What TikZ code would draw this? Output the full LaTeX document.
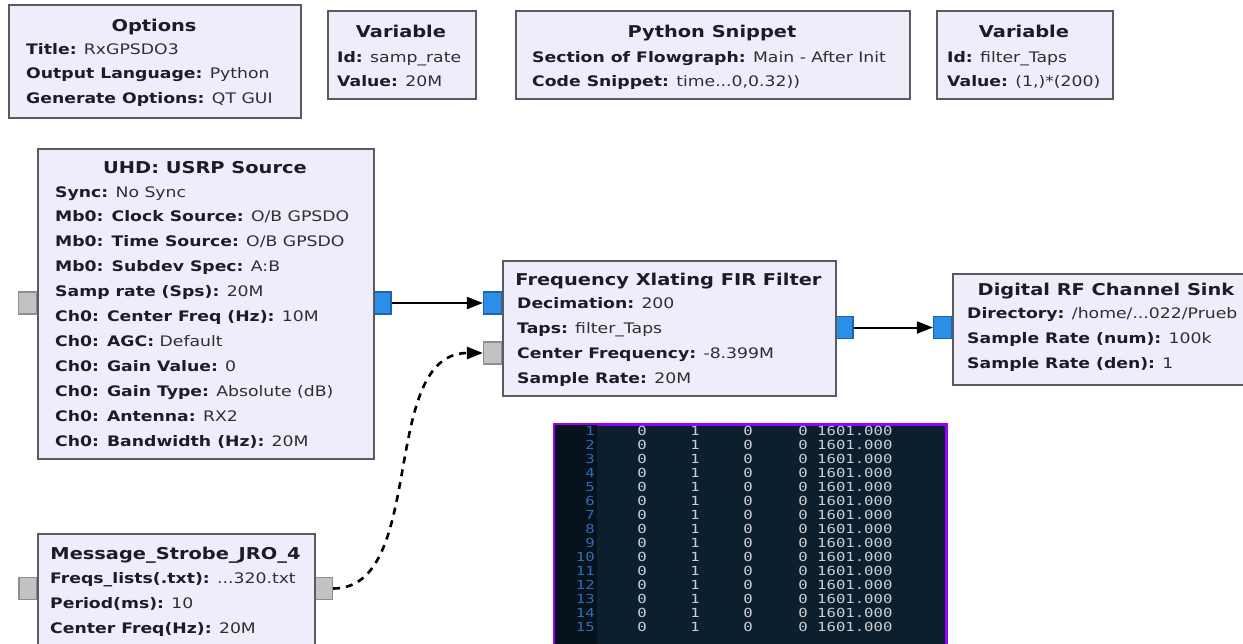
\documentclass[tikz,border=0pt]{standalone}
\usepackage{fontspec}
\usepackage{graphicx}
\setmainfont{DejaVu Sans}[FakeStretch=1.19]
\newfontfamily\monof{DejaVu Sans Mono}[FakeStretch=1.25]
\usetikzlibrary{arrows.meta}
\definecolor{blkfill}{HTML}{EEEEFB}
\definecolor{blkborder}{HTML}{5A5A62}
\definecolor{portblue}{HTML}{2B8FE8}
\definecolor{portblueb}{HTML}{1C64B0}
\definecolor{portgray}{HTML}{C2C2C2}
\definecolor{portgrayb}{HTML}{8E8E8E}
\definecolor{termbg}{HTML}{0C1F2E}
\definecolor{termgut}{HTML}{06121C}
\definecolor{termpurple}{HTML}{9B00FF}
\definecolor{termtxt}{HTML}{C9CED3}
\definecolor{termnum}{HTML}{2F6DB6}
\definecolor{keycol}{HTML}{1C1C28}
\definecolor{valcol}{HTML}{2E2E36}
\newcommand\kv[2]{\textbf{\color{keycol}#1:} {\color{valcol}#2}}
\newcommand\ttl[1]{\textbf{\color{keycol}#1}}
\begin{document}
\begin{tikzpicture}[x=1pt,y=-1pt,
  blk/.style={draw=blkborder, line width=2.4pt, fill=blkfill, inner sep=0pt, anchor=north west},
  txt/.style={anchor=base west, inner sep=0pt, font=\fontsize{14.5}{17}\selectfont},
  ttlnode/.style={anchor=base, inner sep=0pt, font=\fontsize{16.3}{19}\selectfont},
  bport/.style={draw=portblueb, fill=portblue, line width=1.2pt, minimum width=18pt, minimum height=22pt, inner sep=0pt},
  gport/.style={draw=portgrayb, fill=portgray, line width=1.2pt, minimum width=18pt, minimum height=22pt, inner sep=0pt},
  conn/.style={draw=black, line width=2pt, -{Triangle[length=16pt,width=12pt]}},
  msgconn/.style={conn, line width=2.6pt, dash pattern=on 7pt off 6pt},
  tmtxt/.style={inner sep=0pt, text=termtxt, font=\monof\fontsize{12.5}{14}\selectfont},
]
\useasboundingbox (0,0) rectangle (1243,643);
\fill[white] (0,0) rectangle (1243,643);

% ---------- top blocks ----------
\node[blk, minimum width=292pt, minimum height=113pt] (opt) at (8,4) {};
\node[ttlnode] (optT) at (154,31) {\ttl{Options}};
\node[txt] (opt1) at (26,54) {\kv{Title}{RxGPSDO3}};
\node[txt] (opt2) at (26,78.5) {\kv{Output Language}{Python}};
\node[txt] (opt3) at (26,103) {\kv{Generate Options}{QT GUI}};

\node[blk, minimum width=148pt, minimum height=88pt] (var1) at (327,10) {};
\node[ttlnode] (var1T) at (401,37.5) {\ttl{Variable}};
\node[txt] (var11) at (337,62) {\kv{Id}{samp\_rate}};
\node[txt] (var12) at (337,86.5) {\kv{Value}{20M}};

\node[blk, minimum width=394pt, minimum height=88pt] (py) at (515,10) {};
\node[ttlnode] (pyT) at (712,37.5) {\ttl{Python Snippet}};
\node[txt] (py1) at (532,62) {\kv{Section of Flowgraph}{Main - After Init}};
\node[txt] (py2) at (532,86.5) {\kv{Code Snippet}{time...0,0.32))}};

\node[blk, minimum width=176pt, minimum height=88pt] (var2) at (936,10) {};
\node[ttlnode] (var2T) at (1024,37.5) {\ttl{Variable}};
\node[txt] (var21) at (947,62) {\kv{Id}{filter\_Taps}};
\node[txt] (var22) at (947,86.5) {\kv{Value}{(1,)*(200)}};

% ---------- ports ----------
\node[gport] (uhdIn) at (27.5,303) {};
\node[bport] (uhdOut) at (382,303) {};
\node[bport] (firIn) at (492.5,303) {};
\node[gport] (firMsg) at (492.5,353) {};
\node[bport] (firOut) at (844,327.5) {};
\node[bport] (sinkIn) at (942.5,327.5) {};
\node[gport] (strIn) at (28,588.5) {};
\node[gport] (strOut) at (323.5,588.5) {};

% ---------- UHD USRP Source ----------
\node[blk, minimum width=336pt, minimum height=310pt] (uhd) at (37,148) {};
\node[ttlnode] (uhdT) at (205,173) {\ttl{UHD: USRP Source}};
\foreach \t [count=\i from 0] in {
  {\kv{Sync}{No Sync}},
  {\kv{Mb0: Clock Source}{O/B GPSDO}},
  {\kv{Mb0: Time Source}{O/B GPSDO}},
  {\kv{Mb0: Subdev Spec}{A:B}},
  {\kv{Samp rate (Sps)}{20M}},
  {\kv{Ch0: Center Freq (Hz)}{10M}},
  {\kv{Ch0: AGC}{Default}},
  {\kv{Ch0: Gain Value}{0}},
  {\kv{Ch0: Gain Type}{Absolute (dB)}},
  {\kv{Ch0: Antenna}{RX2}},
  {\kv{Ch0: Bandwidth (Hz)}{20M}}}
  \node[txt] (uhdL\i) at (55,{197+24.9*\i}) {\t};

% ---------- Frequency Xlating FIR Filter ----------
\node[blk, minimum width=333pt, minimum height=135pt] (fir) at (502,260) {};
\node[ttlnode] (firT) at (668.5,285) {\ttl{Frequency Xlating FIR Filter}};
\node[txt] (fir1) at (517,308) {\kv{Decimation}{200}};
\node[txt] (fir2) at (517,333) {\kv{Taps}{filter\_Taps}};
\node[txt] (fir3) at (517,358) {\kv{Center Frequency}{-8.399M}};
\node[txt] (fir4) at (517,383) {\kv{Sample Rate}{20M}};

% ---------- Digital RF Channel Sink ----------
\node[blk, minimum width=308pt, minimum height=111pt] (sink) at (952,273) {};
\node[ttlnode] (sinkT) at (1106,295) {\ttl{Digital RF Channel Sink}};
\node[txt] (sink1) at (967,318) {\kv{Directory}{/home/...022/Prueb}};
\node[txt] (sink2) at (967,343) {\kv{Sample Rate (num)}{100k}};
\node[txt] (sink3) at (967,368) {\kv{Sample Rate (den)}{1}};

% ---------- Message Strobe ----------
\node[blk, minimum width=277pt, minimum height=130pt] (str) at (37,533) {};
\node[ttlnode] (strT) at (175.5,559) {\ttl{Message\_Strobe\_JRO\_4}};
\node[txt] (str1) at (50,583) {\kv{Freqs\_lists(.txt)}{...320.txt}};
\node[txt] (str2) at (50,608) {\kv{Period(ms)}{10}};
\node[txt] (str3) at (50,633) {\kv{Center Freq(Hz)}{20M}};

% ---------- connectors ----------
\draw[conn] (uhdOut.east) -- (firIn.west);
\draw[conn] (firOut.east) -- (sinkIn.west);
\draw[msgconn] (strOut.east) .. controls +(95,0) and +(-105,0) .. (firMsg.west);

% ---------- terminal screenshot ----------
\node[draw=termpurple, fill=termbg, line width=3.2pt, minimum width=392pt, minimum height=240pt, inner sep=0pt, anchor=north west] (term) at (553,423) {};
\begin{scope}
\clip (555,425) rectangle (943,660);
\fill[termgut] (555,425) rectangle (597,660);
\foreach \i in {1,...,15}{
  \pgfmathsetmacro{\yy}{431+14*(\i-1)+4.5}
  \node[tmtxt, anchor=base east, text=termnum] (tn\i) at (595,\yy) {\i};
  \node[tmtxt, anchor=base] (ta\i) at (642,\yy) {0};
  \node[tmtxt, anchor=base] (tb\i) at (695,\yy) {1};
  \node[tmtxt, anchor=base] (tc\i) at (748,\yy) {0};
  \node[tmtxt, anchor=base] (td\i) at (803,\yy) {0};
  \node[tmtxt, anchor=base west] (te\i) at (817,\yy) {1601.000};
}
\end{scope}
\end{tikzpicture}
\end{document}
